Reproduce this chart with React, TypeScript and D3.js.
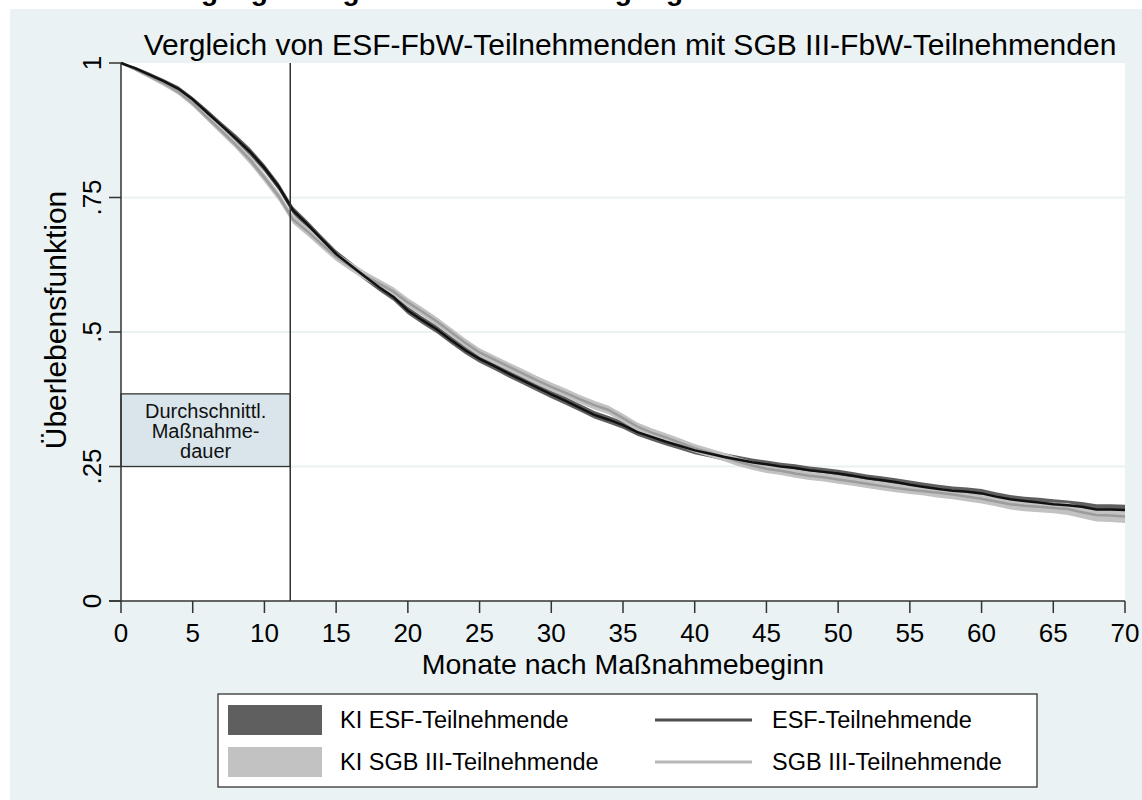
import React from "react";
import * as d3 from "d3";

const months: number[] = d3.range(0, 71);

const esfSurv: number[] = [
  1.0, 0.99, 0.978, 0.966, 0.952, 0.932, 0.908, 0.884, 0.86, 0.835,
  0.805, 0.77, 0.726, 0.7, 0.672, 0.645, 0.624, 0.603, 0.583, 0.565,
  0.54, 0.522, 0.505, 0.485, 0.466, 0.45, 0.437, 0.423, 0.41, 0.397,
  0.384, 0.372, 0.359, 0.346, 0.337, 0.327, 0.314, 0.305, 0.296, 0.288,
  0.28, 0.274, 0.268, 0.263, 0.258, 0.254, 0.25, 0.247, 0.243, 0.24,
  0.237, 0.233, 0.228, 0.225, 0.221, 0.216, 0.212, 0.208, 0.205, 0.203,
  0.2, 0.194, 0.189, 0.186, 0.183, 0.18, 0.178, 0.175, 0.17, 0.17, 0.169,
];

const sgbSurv: number[] = [
  1.0, 0.988, 0.975, 0.962, 0.946, 0.925, 0.899, 0.874, 0.848, 0.82,
  0.787, 0.752, 0.709, 0.687, 0.663, 0.64, 0.622, 0.605, 0.59, 0.575,
  0.555, 0.538, 0.52, 0.5, 0.48, 0.462, 0.449, 0.436, 0.423, 0.41,
  0.398, 0.387, 0.375, 0.364, 0.355, 0.34, 0.324, 0.313, 0.304, 0.294,
  0.284, 0.276, 0.268, 0.259, 0.252, 0.246, 0.242, 0.237, 0.233, 0.23,
  0.226, 0.222, 0.218, 0.214, 0.21, 0.207, 0.204, 0.201, 0.198, 0.194,
  0.19, 0.185, 0.18, 0.177, 0.175, 0.173, 0.171, 0.165, 0.16, 0.159, 0.157,
];

// half-widths of the confidence bands
const esfCI: number[] = [
  0, 0.003, 0.004, 0.004, 0.005, 0.005, 0.006, 0.006, 0.007, 0.007,
  0.007, 0.007, 0.007, 0.007, 0.007, 0.007, 0.007, 0.007, 0.007, 0.007,
  0.007, 0.007, 0.007, 0.007, 0.007, 0.007, 0.007, 0.007, 0.007, 0.007,
  0.007, 0.007, 0.007, 0.007, 0.007, 0.007, 0.007, 0.007, 0.007, 0.007,
  0.007, 0.007, 0.007, 0.007, 0.007, 0.007, 0.007, 0.007, 0.007, 0.007,
  0.007, 0.007, 0.007, 0.007, 0.007, 0.008, 0.008, 0.008, 0.008, 0.008,
  0.008, 0.008, 0.008, 0.008, 0.009, 0.009, 0.009, 0.009, 0.01, 0.01, 0.01,
];

const sgbCI: number[] = [
  0, 0.003, 0.004, 0.005, 0.005, 0.006, 0.006, 0.007, 0.007, 0.008,
  0.008, 0.008, 0.008, 0.008, 0.008, 0.008, 0.008, 0.008, 0.008, 0.008,
  0.008, 0.008, 0.008, 0.008, 0.008, 0.008, 0.008, 0.008, 0.008, 0.008,
  0.008, 0.008, 0.008, 0.008, 0.008, 0.008, 0.008, 0.008, 0.008, 0.008,
  0.008, 0.008, 0.008, 0.008, 0.008, 0.008, 0.008, 0.008, 0.008, 0.008,
  0.008, 0.008, 0.008, 0.008, 0.008, 0.008, 0.008, 0.009, 0.009, 0.009,
  0.009, 0.009, 0.01, 0.01, 0.01, 0.01, 0.011, 0.011, 0.012, 0.012, 0.012,
];

const xTicks: number[] = [0, 5, 10, 15, 20, 25, 30, 35, 40, 45, 50, 55, 60, 65, 70];
const yTicks: number[] = [0, 0.25, 0.5, 0.75, 1];
const yTickLabels: string[] = ["0", ".25", ".5", ".75", "1"];
const gridVals: number[] = [0.25, 0.5, 0.75];

const avgDuration = 11.8;
const boxTop = 0.385;
const boxBottom = 0.25;
const boxLines: string[] = ["Durchschnittl.", "Maßnahme-", "dauer"];

const legendBandLabels: string[] = ["KI ESF-Teilnehmende", "KI SGB III-Teilnehmende"];
const legendLineLabels: string[] = ["ESF-Teilnehmende", "SGB III-Teilnehmende"];

const mainTitle = "Gesamt: Übergang in ungeförderte Beschäftigung am ersten Arbeitsmarkt";
const subTitle = "Vergleich von ESF-FbW-Teilnehmenden mit SGB III-FbW-Teilnehmenden";
const xTitle = "Monate nach Maßnahmebeginn";
const yTitle = "Überlebensfunktion";

const W = 1142;
const H = 800;
const BG = "#EAF2F3";
const FONT = "Arial, 'Liberation Sans', Helvetica, sans-serif";
const AX = "#333333";

export default function App() {
  const x = d3.scaleLinear().domain([0, 70]).range([121, 1125]);
  const y = d3.scaleLinear().domain([0, 1]).range([601, 63]);

  const area = (vals: number[], ci: number[]) =>
    d3
      .area<number>()
      .x((d) => x(d))
      .y0((d) => y(vals[d] - ci[d]))
      .y1((d) => y(Math.min(1, vals[d] + ci[d])))(months) || "";
  const line = (vals: number[]) =>
    d3
      .line<number>()
      .x((d) => x(d))
      .y((d) => y(vals[d]))(months) || "";

  return (
    <svg
      width={W}
      height={H}
      style={{ position: "absolute", left: 0, top: 0, display: "block" }}
      fontFamily={FONT}
    >
      <rect x={0} y={0} width={W} height={H} fill="#ffffff" />
      <text x={510} y={0} textAnchor="middle" fontSize={28} fontWeight="bold" fill="#000">
        {mainTitle}
      </text>
      <rect x={10} y={9} width={W - 10} height={H - 9} fill={BG} />

      {/* plot region */}
      <rect x={x(0)} y={y(1)} width={x(70) - x(0)} height={y(0) - y(1)} fill="#ffffff" />
      {gridVals.map((g) => (
        <line key={g} x1={x(0)} x2={x(70)} y1={y(g)} y2={y(g)} stroke={BG} strokeWidth={2} />
      ))}

      {/* bands and lines */}
      <path d={area(esfSurv, esfCI)} fill="#5f5f5f" />
      <path d={area(sgbSurv, sgbCI)} fill="#c2c2c2" />
      <path d={line(sgbSurv)} fill="none" stroke="#9c9c9c" strokeWidth={2.5} />
      <path d={line(esfSurv)} fill="none" stroke="#111111" strokeWidth={2.5} />

      {/* average duration marker */}
      <rect
        x={x(0)}
        y={y(boxTop)}
        width={x(avgDuration) - x(0)}
        height={y(boxBottom) - y(boxTop)}
        fill="#D9E5EB"
        stroke={AX}
        strokeWidth={1.3}
      />
      {boxLines.map((t, i) => (
        <text
          key={t}
          x={(x(0) + x(avgDuration)) / 2}
          y={y(boxTop) + 24 + i * 20}
          textAnchor="middle"
          fontSize={20}
          fill="#111"
        >
          {t}
        </text>
      ))}
      <line x1={x(avgDuration)} x2={x(avgDuration)} y1={y(1)} y2={y(0)} stroke={AX} strokeWidth={1.5} />

      {/* axes */}
      <line x1={x(0)} x2={x(0)} y1={y(1)} y2={y(0)} stroke={AX} strokeWidth={1.5} />
      <line x1={x(0) - 12} x2={x(70)} y1={y(0)} y2={y(0)} stroke={AX} strokeWidth={1.5} />
      {xTicks.map((t) => (
        <g key={t}>
          <line x1={x(t)} x2={x(t)} y1={y(0)} y2={y(0) + 12} stroke={AX} strokeWidth={1.5} />
          <text x={x(t)} y={642} textAnchor="middle" fontSize={26} fill="#000">
            {t}
          </text>
        </g>
      ))}
      {yTicks.map((t, i) => (
        <g key={t}>
          <line x1={x(0) - 12} x2={x(0)} y1={y(t)} y2={y(t)} stroke={AX} strokeWidth={1.5} />
          <text
            transform={`translate(101,${y(t)}) rotate(-90)`}
            textAnchor="middle"
            fontSize={26}
            fill="#000"
          >
            {yTickLabels[i]}
          </text>
        </g>
      ))}

      <text x={630} y={55} textAnchor="middle" fontSize={30} fill="#000">
        {subTitle}
      </text>
      <text x={623} y={674} textAnchor="middle" fontSize={28.5} fill="#000">
        {xTitle}
      </text>
      <text transform={`translate(66,320) rotate(-90)`} textAnchor="middle" fontSize={30} fill="#000">
        {yTitle}
      </text>

      {/* legend */}
      <rect x={218} y={694} width={819} height={93} fill="#ffffff" stroke={AX} strokeWidth={1.3} />
      <rect x={228} y={705} width={94} height={30} fill="#5f5f5f" />
      <rect x={228} y={747} width={94} height={30} fill="#c2c2c2" />
      {legendBandLabels.map((t, i) => (
        <text key={t} x={340} y={728 + i * 42} fontSize={23.5} fill="#000">
          {t}
        </text>
      ))}
      <line x1={655} x2={752} y1={720} y2={720} stroke="#4d4d4d" strokeWidth={3} />
      <line x1={655} x2={752} y1={762} y2={762} stroke="#b8b8b8" strokeWidth={3} />
      {legendLineLabels.map((t, i) => (
        <text key={t} x={772} y={728 + i * 42} fontSize={23.5} fill="#000">
          {t}
        </text>
      ))}
    </svg>
  );
}
